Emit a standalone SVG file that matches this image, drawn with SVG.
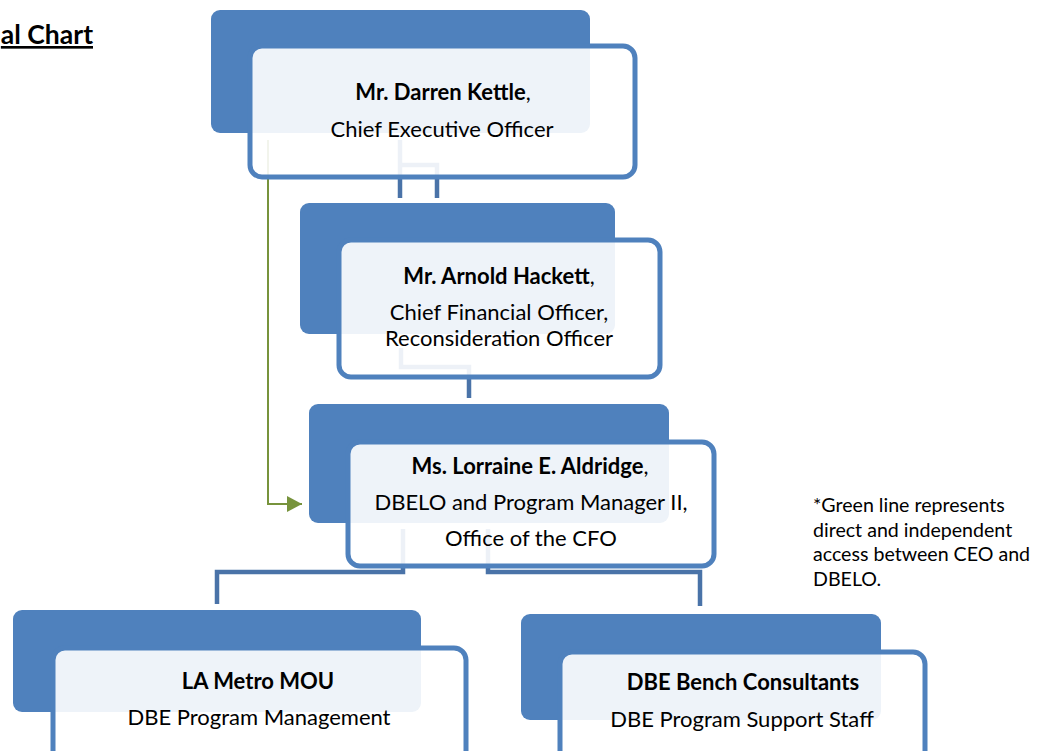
<svg xmlns="http://www.w3.org/2000/svg" width="1045" height="751" viewBox="0 0 1045 751">
  <style>
    .back { fill: #4F81BD; }
    .front { fill: #FFFFFF; fill-opacity: 0.9; stroke: #4F81BD; stroke-width: 5; }
    .conn { fill: none; stroke: #4A73A8; stroke-width: 4.5; }
    .green { fill: none; stroke: #77933C; stroke-width: 2; }
    text { font-family: Lato, "Open Sans", "Liberation Sans", sans-serif; fill: #000; }
    .lbl { font-size: 22px; text-anchor: middle; }
    .b { font-weight: bold; }
    .note { font-size: 19.6px; }
    .title { font-size: 26.5px; font-weight: bold; text-decoration: underline; text-anchor: end; }
  </style>
  <defs>
    <marker id="arrow" markerWidth="8" markerHeight="8" refX="7.5" refY="4" orient="auto" markerUnits="strokeWidth">
      <path d="M0,0 L7.5,4 L0,8 Z" fill="#77933C"/>
    </marker>
  </defs>

  <rect width="1045" height="751" fill="#FFFFFF"/>

  <text class="title" x="93" y="44">al Chart</text>

  <!-- reporting lines and the direct-access line, drawn beneath the nodes -->
  <g id="connectors">
    <path class="conn" d="M400,140 V198 M400,165 H437 V198"/>
    <path class="conn" d="M401,348 V367 H469 V398"/>
    <path class="conn" d="M403,529 V572 H217 V604"/>
    <path class="conn" d="M488,529 V572 H700 V606"/>
    <path class="green" d="M268,140 V504 H302" marker-end="url(#arrow)"/>
  </g>

  <g id="ceo">
    <rect class="back" x="211" y="10" width="379" height="123" rx="9"/>
    <rect class="front" x="250" y="46" width="385" height="131" rx="12"/>
    <text class="lbl" x="443" y="100"><tspan class="b">Mr. Darren Kettle</tspan>,</text>
    <text class="lbl" x="442" y="137">Chief Executive Officer</text>
  </g>

  <g id="cfo">
    <rect class="back" x="300" y="203" width="315" height="131" rx="9"/>
    <rect class="front" x="339" y="240" width="321" height="137" rx="12"/>
    <text class="lbl" x="499" y="284"><tspan class="b">Mr. Arnold Hackett</tspan>,</text>
    <text class="lbl" x="499" y="320">Chief Financial Officer,</text>
    <text class="lbl" x="499" y="346">Reconsideration Officer</text>
  </g>

  <g id="dbelo">
    <rect class="back" x="309" y="404" width="360" height="119" rx="9"/>
    <rect class="front" x="348" y="442" width="366" height="124" rx="12"/>
    <text class="lbl" x="530" y="474"><tspan class="b">Ms. Lorraine E. Aldridge</tspan>,</text>
    <text class="lbl" x="531" y="510">DBELO and Program Manager II,</text>
    <text class="lbl" x="531" y="546">Office of the CFO</text>
  </g>

  <g id="la-metro">
    <rect class="back" x="13" y="610" width="408" height="102" rx="9"/>
    <rect class="front" x="53" y="648" width="413" height="115" rx="12"/>
    <text class="lbl b" x="258" y="689">LA Metro MOU</text>
    <text class="lbl" x="259" y="725">DBE Program Management</text>
  </g>

  <g id="bench">
    <rect class="back" x="521" y="614" width="360" height="106" rx="9"/>
    <rect class="front" x="560" y="652" width="365" height="111" rx="12"/>
    <text class="lbl b" x="743" y="690">DBE Bench Consultants</text>
    <text class="lbl" x="742" y="727">DBE Program Support Staff</text>
  </g>

  <g id="note">
    <text class="note" x="813" y="512">*Green line represents</text>
    <text class="note" x="813" y="537">direct and independent</text>
    <text class="note" x="813" y="561">access between CEO and</text>
    <text class="note" x="813" y="586">DBELO.</text>
  </g>
</svg>
